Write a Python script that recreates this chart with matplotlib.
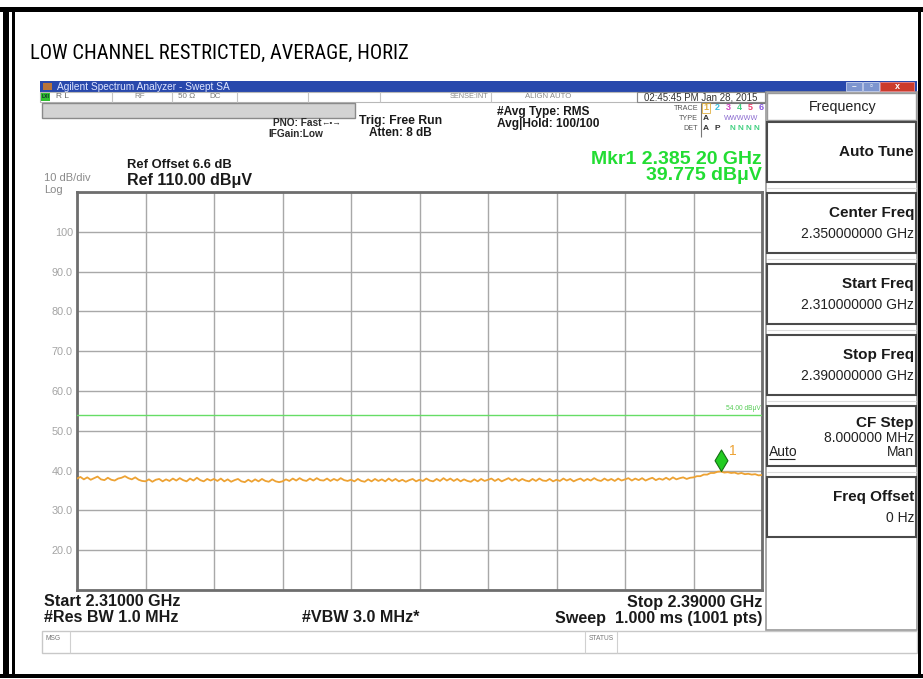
import numpy as np
import matplotlib
matplotlib.use('Agg')
import matplotlib.pyplot as plt
from matplotlib.patches import Rectangle
from matplotlib.path import Path
from matplotlib import font_manager as fm

# ---------------- data ----------------
start_ghz = 2.310
stop_ghz = 2.390
trace_dbuv = [
    38.0, 38.4, 37.8, 38.3, 37.7, 38.1, 38.5, 37.8, 37.6, 38.2, 37.7, 37.5, 38.0, 38.2, 38.6, 38.1, 37.8, 38.3, 37.7, 37.4,
    37.3, 37.8, 37.2, 37.7, 37.9, 37.3, 37.8, 37.4, 38.0, 37.5, 38.1, 37.6, 37.3, 38.0, 37.5, 38.2, 37.6, 37.3, 37.9, 37.5,
    37.9, 37.4, 38.0, 37.3, 37.8, 37.2, 37.6, 37.9, 37.3, 37.1, 37.7, 37.2, 37.8, 37.3, 37.9, 37.4, 37.2, 37.8, 37.3, 37.1,
    37.3, 37.8, 37.4, 38.0, 37.5, 38.1, 37.6, 37.4, 38.0, 37.5, 38.1, 37.6, 37.5, 38.0, 37.4, 37.9, 37.5, 38.1, 37.6, 37.4,
    37.7, 37.3, 37.9, 37.4, 37.2, 37.8, 37.3, 37.9, 37.4, 37.8, 37.3, 38.0, 37.4, 37.9, 37.3, 37.7, 37.2, 37.6, 37.9, 37.3,
    37.7, 37.4, 38.0, 37.5, 37.3, 37.9, 37.4, 38.1, 37.5, 38.0, 37.4, 37.9, 37.3, 37.8, 37.4, 37.2, 37.8, 37.3, 37.9, 37.4,
    37.7, 38.0, 37.4, 37.9, 37.3, 37.7, 38.1, 37.5, 38.0, 37.4, 37.9, 37.5, 37.3, 37.9, 37.4, 38.0, 37.5, 37.4, 37.9, 37.3,
    37.7, 37.4, 38.0, 37.5, 37.9, 37.3, 37.7, 38.0, 37.4, 37.9, 37.5, 38.1, 37.6, 37.4, 38.0, 37.5, 37.9, 37.4, 38.0, 37.5,
    37.8, 38.1, 37.5, 38.0, 37.6, 38.1, 37.5, 37.9, 38.2, 37.6, 38.0, 37.7, 38.2, 37.7, 38.3, 37.8, 38.1, 38.3, 37.9, 38.2,
    38.3, 38.6, 38.6, 39.0, 39.0, 39.4, 39.4, 39.7, 39.775, 39.5, 39.6, 39.4, 39.5, 39.2, 39.4, 39.1, 39.2, 39.0, 39.1, 38.8,
    38.9,
]
limit_dbuv = 54.0
marker_ghz = 2.38520
marker_dbuv = 39.775
ref_level = 110.0
db_per_div = 10.0
y_tick_values = [110, 100, 90, 80, 70, 60, 50, 40, 30, 20, 10]
y_tick_labels = ['', '100', '90.0', '80.0', '70.0', '60.0', '50.0', '40.0', '30.0', '20.0', '']
title_text = 'LOW CHANNEL RESTRICTED, AVERAGE, HORIZ'

softkeys = [  # (label, value lines)
    ('Auto Tune', []),
    ('Center Freq', ['2.350000000 GHz']),
    ('Start Freq', ['2.310000000 GHz']),
    ('Stop Freq', ['2.390000000 GHz']),
    ('CF Step', ['8.000000 MHz']),
    ('Freq Offset', ['0 Hz']),
]

# ---------------- fonts ----------------
names = {f.name for f in fm.fontManager.ttflist}
SANS = 'Liberation Sans' if 'Liberation Sans' in names else 'DejaVu Sans'
NARROW = SANS
for cand in ['Liberation Sans Narrow', 'Roboto Condensed', 'Open Sans Condensed']:
    if cand in names:
        NARROW = cand
        break
plt.rcParams['font.family'] = [SANS, 'DejaVu Sans']

W, H = 923, 679
fig = plt.figure(figsize=(W / 100, H / 100), dpi=100)
fig.patch.set_facecolor('white')
bg = fig.add_axes([0, 0, 1, 1], zorder=0)
bg.set_xlim(0, W)
bg.set_ylim(H, 0)
bg.axis('off')


def R(x0, y0, x1, y1, fc='none', ec='none', lw=1.0, z=1):
    bg.add_patch(Rectangle((x0, y0), x1 - x0, y1 - y0, facecolor=fc, edgecolor=ec, linewidth=lw, zorder=z))


def L(x0, y0, x1, y1, c='#000', lw=1.0, z=2):
    bg.plot([x0, x1], [y0, y1], color=c, lw=lw, zorder=z, solid_capstyle='butt')


def T(x, y, s, size, ha='left', color='#1a1a1a', weight='normal', family=None, **kw):
    return bg.text(x, y, s, fontsize=size, ha=ha, va='center', color=color, weight=weight,
                   family=family if family else [SANS, 'DejaVu Sans'], zorder=5, **kw)


# ---------------- outer frame ----------------
R(0, 7, W, 12, fc='black', z=3)
R(3, 7, 9, 678, fc='black', z=3)
R(12, 12, 15, 678, fc='black', z=3)
R(0, 674, W, 678, fc='black', z=3)
R(918, 7, 921, 678, fc='black', z=3)

# title
title = bg.text(30, 59, title_text, fontsize=20, ha='left', va='baseline', color='black',
                family=[NARROW, 'DejaVu Sans'], zorder=5)
fig.canvas.draw()
bb = title.get_window_extent()
title.set_fontsize(20 * 378.0 / bb.width)

# ---------------- window chrome ----------------
R(40, 81, 917, 92, fc='#2848ac', z=1)
R(43, 83, 52, 90, fc='#b8743a', z=2)
T(57, 86.5, 'Agilent Spectrum Analyzer - Swept SA', 7.3, color='#dde4ff')
R(846, 82, 862, 91, fc='#7d95cf', ec='#c8d2ee', lw=0.6, z=2)
R(863, 82, 879, 91, fc='#7d95cf', ec='#c8d2ee', lw=0.6, z=2)
R(880, 82, 914, 91, fc='#cc3b2b', ec='#e88', lw=0.6, z=2)
T(854, 86.5, '–', 6, ha='center', color='white', weight='bold')
T(871, 86.5, '▫', 6, ha='center', color='white')
T(897, 86.5, 'x', 6.5, ha='center', color='white', weight='bold')

# status row
R(40, 92, 765, 102, fc='white', ec='#b8b8b8', lw=0.8, z=1)
for xs in [112, 172, 237, 308, 380, 491, 637]:
    L(xs, 92, xs, 102, c='#c4c4c4', lw=0.8)
R(41, 93, 50, 101, fc='#2fbf2f', z=2)
T(45.5, 97, 'LXI', 3.6, ha='center', color='#123', weight='bold')
T(56, 97, 'R L', 6, color='#666')
T(145, 97, 'RF', 5.8, ha='right', color='#888')
T(178, 97, '50 Ω', 5.8, color='#777')
T(209, 97, 'DC', 5.8, color='#777')
T(488, 97, 'SENSE:INT', 5.3, ha='right', color='#888')
T(548, 97, 'ALIGN AUTO', 5.6, ha='center', color='#888')
R(637, 92, 765, 102, fc='none', ec='#888', lw=0.8, z=2)
T(701, 97, '02:45:45 PM Jan 28, 2015', 7.0, ha='center', color='#333')

# gray bar
R(42, 103, 355, 118, fc='#d3d3d3', ec='#8a8a8a', lw=1.0, z=1)

# settings text
T(273, 123, 'PNO: Fast', 7.3, weight='bold', color='#2a2a2a')
T(321, 123, '←•→', 6, color='#2a2a2a')
T(268, 134, 'IFGain:Low', 7.3, weight='bold', color='#2a2a2a')
T(359, 121, 'Trig: Free Run', 8.8, weight='bold')
T(369, 133, 'Atten: 8 dB', 8.5, weight='bold')
T(497, 112, '#Avg Type: RMS', 8.6, weight='bold')
T(497, 124, 'Avg|Hold: 100/100', 8.6, weight='bold')

# trace legend box
L(701, 103, 701, 137, c='#777', lw=0.8)
L(701, 103, 765, 103, c='#777', lw=0.8)
T(698, 108, 'TRACE', 5.2, ha='right', color='#555')
T(698, 118, 'TYPE', 5.2, ha='right', color='#555')
T(698, 128, 'DET', 5.2, ha='right', color='#555')
trace_cols = ['#e0b040', '#3cc0e0', '#d23fc0', '#40d080', '#f04070', '#8a5ae0']
for i, c in enumerate(trace_cols):
    T(706 + i * 11.0, 108, str(i + 1), 6.5, ha='center', color=c, weight='bold')
R(702, 103, 710, 113, fc='none', ec='#e0b040', lw=0.6, z=2)
T(706, 118, 'A', 6, ha='center', color='#333', weight='bold')
T(741, 118, 'WWWWW', 5.2, ha='center', color='#8a6ad0')
T(706, 128, 'A', 6, ha='center', color='#333', weight='bold')
T(717, 128, 'P', 6, ha='center', color='#333', weight='bold')
T(745, 128, 'N N N N', 5.8, ha='center', color='#40d080', weight='bold')

# marker readout
T(762, 159, 'Mkr1 2.385 20 GHz', 14, ha='right', weight='bold', color='#22dd33')
T(762, 176, '39.775 dBμV', 14, ha='right', weight='bold', color='#22dd33')

# reference info
T(127, 165, 'Ref Offset 6.6 dB', 9.4, weight='bold')
T(127, 180, 'Ref 110.00 dBμV', 11.5, weight='bold')
T(44, 178, '10 dB/div', 8.0, color='#8a8a8a')
T(44, 190, 'Log', 8.0, color='#8a8a8a')

# bottom annotations
T(44, 602, 'Start 2.31000 GHz', 11.6, weight='bold')
T(44, 618, '#Res BW 1.0 MHz', 11.6, weight='bold')
T(302, 618, '#VBW 3.0 MHz*', 11.6, weight='bold')
T(762, 602, 'Stop 2.39000 GHz', 11.6, ha='right', weight='bold')
T(762, 618, 'Sweep  1.000 ms (1001 pts)', 11.6, ha='right', weight='bold')

# MSG row
R(42, 631, 917, 653, fc='white', ec='#c8c8c8', lw=1.0, z=1)
L(70, 631, 70, 653, c='#d0d0d0', lw=0.8)
L(585, 631, 585, 653, c='#d0d0d0', lw=0.8)
L(617, 631, 617, 653, c='#d0d0d0', lw=0.8)
T(45, 638, 'MSG', 4.8, color='#777')
T(589, 638, 'STATUS', 4.8, color='#777')

# soft key panel
R(766, 92, 917, 630, fc='white', ec='#9a9a9a', lw=1.2, z=1)
R(767, 93, 916, 120, fc='white', ec='#9a9a9a', lw=1.0, z=2)
T(843, 106.5, 'Frequency', 10.3, ha='center', color='#222')
box_tops = [122, 193, 264, 335, 406, 477]
box_h = 60
for (lab, vals), y0 in zip(softkeys, box_tops):
    R(767, y0, 916, y0 + box_h, fc='white', ec='#4a4a4a', lw=1.5, z=2)
    if not vals:
        T(914, y0 + 30, lab, 11, ha='right', weight='bold')
    elif lab == 'CF Step':
        T(914, y0 + 17, lab, 11, ha='right', weight='bold')
        T(914, y0 + 32, vals[0], 10, ha='right', color='#222')
    else:
        T(914, y0 + 20, lab, 11, ha='right', weight='bold')
        T(914, y0 + 41, vals[0], 10, ha='right', color='#222')
for y0 in box_tops[:-1]:
    L(767, y0 + box_h + 5.5, 916, y0 + box_h + 5.5, c='#dcdcdc', lw=0.8)
T(769, 452, 'Auto', 10, color='#222')
L(769, 459, 795, 459, c='#222', lw=0.8)
T(914, 452, 'Man', 10, ha='right', color='#222')

# ---------------- spectrum plot ----------------
ax = fig.add_axes([77 / W, 1 - 590 / H, 685 / W, 398 / H], zorder=2)
ax.set_facecolor('white')
freqs = np.linspace(start_ghz, stop_ghz, len(trace_dbuv))
ax.set_xlim(start_ghz, stop_ghz)
ax.set_ylim(ref_level - 10 * db_per_div, ref_level)
ax.set_xticks(np.linspace(start_ghz, stop_ghz, 11))
ax.set_yticks(y_tick_values)
ax.set_yticklabels(y_tick_labels)
ax.set_xticklabels([])
ax.tick_params(axis='both', length=0)
ax.tick_params(axis='y', pad=3, labelsize=7.8, labelcolor='#a4a4a4')
ax.grid(True, color='#a8a8a8', lw=1.0)
ax.set_axisbelow(True)
for sp in ax.spines.values():
    sp.set_color('#6e6e6e')
    sp.set_linewidth(2.0)

ax.axhline(limit_dbuv, color='#66dd66', lw=1.0, zorder=3)
ax.text(stop_ghz - 0.0002, limit_dbuv + 0.6, f'{limit_dbuv:.2f} dBμV', ha='right', va='bottom',
        fontsize=4.8, color='#55cc55', zorder=4)
ax.plot(freqs, trace_dbuv, color='#eda233', lw=1.3, zorder=4)

diamond = Path([(0, 0), (0.6, 1), (0, 2), (-0.6, 1), (0, 0)],
               [Path.MOVETO, Path.LINETO, Path.LINETO, Path.LINETO, Path.CLOSEPOLY])
ax.plot([marker_ghz], [marker_dbuv], marker=diamond, markersize=31, markerfacecolor='#22cc22',
        markeredgecolor='#137013', markeredgewidth=0.8, linestyle='none', zorder=6, clip_on=False)
ax.annotate('1', (marker_ghz, marker_dbuv), xytext=(6, 15), textcoords='offset points',
            ha='left', va='center', fontsize=10, color='#eda233', zorder=6)

fig.savefig('out.png', dpi=100, facecolor='white')
